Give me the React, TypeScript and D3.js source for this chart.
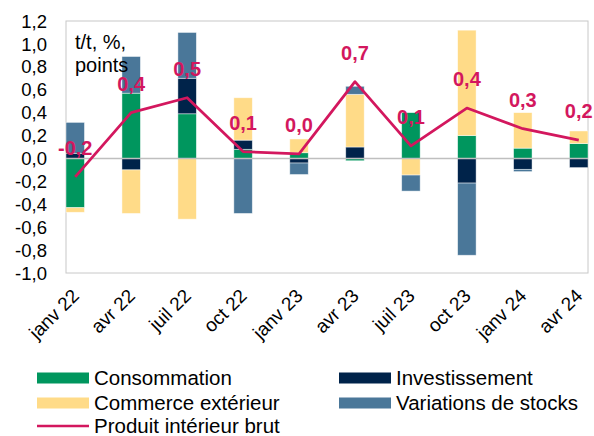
import * as d3 from 'd3';

// quarters
const categories = ['janv 22', 'avr 22', 'juil 22', 'oct 22', 'janv 23', 'avr 23', 'juil 23', 'oct 23', 'janv 24', 'avr 24'];

// contributions, points
const consommation = [-0.43, 0.57, 0.39, 0.08, 0.05, -0.02, 0.40, 0.20, 0.09, 0.13];
const investissement = [0.045, -0.10, 0.31, 0.08, -0.04, 0.10, 0.0, -0.215, -0.095, -0.08];
const commerce = [-0.04, -0.38, -0.53, 0.37, 0.12, 0.46, -0.145, 0.92, 0.31, 0.11];
const stocks = [0.27, 0.32, 0.40, -0.48, -0.10, 0.07, -0.14, -0.63, -0.02, 0.0];
// GDP q/q growth
const pib = [-0.16, 0.40, 0.53, 0.06, 0.04, 0.67, 0.11, 0.44, 0.26, 0.16];

const yTicks = [1.2, 1.0, 0.8, 0.6, 0.4, 0.2, 0, -0.2, -0.4, -0.6, -0.8, -1.0];

const seriesNames = ['Consommation', 'Investissement', 'Commerce extérieur', 'Variations de stocks'];
const colors = ['#00965e', '#00234a', '#ffdb88', '#4a7799'];
const lineColor = '#d3175e';

const font = '"Liberation Sans", Arial, sans-serif';

const locale = d3.formatLocale({ decimal: ',', thousands: ' ', grouping: [3], currency: ['', ' €'], minus: '-' });
const fmt = locale.format('.1f');

export default function App() {
  const width = 594;
  const height = 436;
  const margin = { top: 21, right: 6, bottom: 163, left: 66 };
  const plotW = width - margin.left - margin.right;
  const plotH = height - margin.top - margin.bottom;

  const x = d3.scaleBand<string>()
    .domain(categories)
    .range([margin.left, margin.left + plotW])
    .paddingInner(0.67)
    .paddingOuter(0);
  const cx = (c: string) => (x(c) as number) + x.bandwidth() / 2;

  const y = d3.scaleLinear()
    .domain([-1, 1.2])
    .range([margin.top + plotH, margin.top]);

  // table for the stack
  const rows = categories.map((c, i) => ({
    cat: c,
    s0: consommation[i],
    s1: investissement[i],
    s2: commerce[i],
    s3: stocks[i]
  }));
  const stack = d3.stack<any>()
    .keys(['s0', 's1', 's2', 's3'])
    .offset(d3.stackOffsetDiverging);
  const layers = stack(rows);

  const line = d3.line<number>()
    .x((_, i) => cx(categories[i]))
    .y(d => y(d));

  const legendItems = [
    { name: seriesNames[0], color: colors[0], x: 37, y: 378, type: 'rect' },
    { name: seriesNames[1], color: colors[1], x: 339, y: 378, type: 'rect' },
    { name: seriesNames[2], color: colors[2], x: 37, y: 403, type: 'rect' },
    { name: seriesNames[3], color: colors[3], x: 339, y: 403, type: 'rect' },
    { name: 'Produit intérieur brut', color: lineColor, x: 37, y: 426, type: 'line' }
  ];

  return (
    <svg width={width} height={height} style={{ position: 'absolute', left: 0, top: 0, background: '#fff' }} fontFamily={font}>
      {/* plot frame */}
      <rect x={margin.left} y={margin.top} width={plotW} height={plotH} fill="none" stroke="#c8c8c8" strokeWidth={1} />

      {/* y axis labels */}
      {yTicks.map(t => (
        <text key={t} x={47} y={y(t)} dy="0.36em" textAnchor="end" fontSize={18.5} fill="#000">
          {fmt(t)}
        </text>
      ))}

      {/* bars */}
      {layers.map((layer, li) => (
        <g key={layer.key} fill={colors[li]}>
          {layer.map((d, i) => {
            const top = y(Math.max(d[0], d[1]));
            const bot = y(Math.min(d[0], d[1]));
            if (bot - top <= 0) return null;
            return (
              <rect key={i} x={x(categories[i])} y={top} width={x.bandwidth()} height={bot - top}
                stroke="#ffffff" strokeOpacity={0.6} strokeWidth={0.75} />
            );
          })}
        </g>
      ))}

      {/* zero line */}
      <line x1={margin.left} x2={margin.left + plotW} y1={y(0)} y2={y(0)} stroke="#bfbfbf" strokeWidth={1.5} />

      {/* GDP line */}
      <path d={line(pib) as string} fill="none" stroke={lineColor} strokeWidth={2.75} strokeLinejoin="round" />
      {pib.map((v, i) => (
        <text key={i} x={cx(categories[i])} y={y(v) - 22} textAnchor="middle" fontSize={20} fontWeight="bold" fill={lineColor}>
          {fmt(v)}
        </text>
      ))}

      {/* unit */}
      <text x={75} y={49} fontSize={20} fill="#000">t/t, %,</text>
      <text x={75} y={72} fontSize={20} fill="#000">points</text>

      {/* x labels */}
      {categories.map(c => (
        <text key={c} transform={`translate(${cx(c) + 5},${297}) rotate(-45)`} textAnchor="end" fontSize={19} fill="#000">
          {c}
        </text>
      ))}

      {/* legend */}
      {legendItems.map(it => (
        <g key={it.name}>
          {it.type === 'rect'
            ? <rect x={it.x} y={it.y - 5.5} width={52} height={11} fill={it.color} />
            : <line x1={it.x} x2={it.x + 52} y1={it.y} y2={it.y} stroke={it.color} strokeWidth={2.5} />}
          <text x={it.x + 57} y={it.y + 6.5} fontSize={20.5} fill="#000">{it.name}</text>
        </g>
      ))}
    </svg>
  );
}
